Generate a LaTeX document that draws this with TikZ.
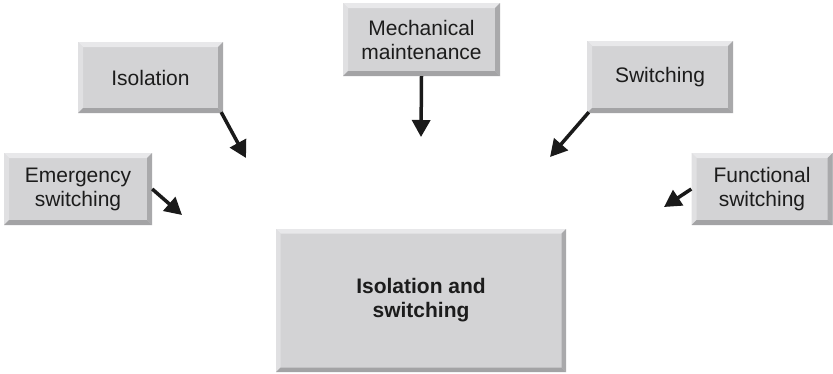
\documentclass[tikz,border=0pt]{standalone}
\usepackage{fontspec}
\setmainfont{Liberation Sans}
\usetikzlibrary{arrows.meta}
\definecolor{face}{HTML}{D3D3D5}
\definecolor{toplt}{HTML}{E8E8EA}
\definecolor{leftlt}{HTML}{E0E0E2}
\definecolor{rightdk}{HTML}{A9A9AB}
\definecolor{botdk}{HTML}{A3A3A5}
\definecolor{ink}{HTML}{1C1C1C}
\definecolor{arr}{HTML}{1A1A1A}
\def\bw{5pt}
\tikzset{
  bw/.code={\def\bw{#1}},
  bbox/.style={rectangle, inner sep=0pt, fill=face, text=ink, align=center,
    font=\fontsize{21}{24}\selectfont,
    path picture={
      \coordinate (NW) at (path picture bounding box.north west);
      \coordinate (NE) at (path picture bounding box.north east);
      \coordinate (SW) at (path picture bounding box.south west);
      \coordinate (SE) at (path picture bounding box.south east);
      \fill[toplt] (NW) -- (NE) -- ([xshift=-\bw,yshift=-\bw]NE) -- ([xshift=\bw,yshift=-\bw]NW) -- cycle;
      \fill[leftlt] (NW) -- ([xshift=\bw,yshift=-\bw]NW) -- ([xshift=\bw,yshift=\bw]SW) -- (SW) -- cycle;
      \fill[rightdk] (NE) -- (SE) -- ([xshift=-\bw,yshift=\bw]SE) -- ([xshift=-\bw,yshift=-\bw]NE) -- cycle;
      \fill[botdk] (SW) -- (SE) -- ([xshift=-\bw,yshift=\bw]SE) -- ([xshift=\bw,yshift=\bw]SW) -- cycle;
    }},
  conn/.style={draw=arr, line width=3.5pt, -{Triangle[length=17pt,width=18pt]}}
}
\begin{document}
\begin{tikzpicture}[x=1pt,y=-1pt]
\useasboundingbox (0,0) rectangle (833,373);
\node[bbox, minimum width=145pt, minimum height=71pt] (iso) at (150.5,77.5) {Isolation};
\node[bbox, minimum width=148pt, minimum height=72pt] (emg) at (78,189) {Emergency\\switching};
\node[bbox, minimum width=157pt, minimum height=73pt] (mech) at (421.5,39.5) {Mechanical\\maintenance};
\node[bbox, minimum width=146pt, minimum height=72pt] (sw) at (660,77) {Switching};
\node[bbox, minimum width=141pt, minimum height=72pt] (fun) at (762,189) {Functional\\switching};
\node[bbox, bw=4.5pt, minimum width=290pt, minimum height=143pt, font=\fontsize{21}{24}\selectfont\bfseries] (big) at (421,300.5) {Isolation and\\switching};
\coordinate (tiso) at (246,158);
\coordinate (temg) at (182,215);
\coordinate (tmech) at (421,137);
\coordinate (tsw) at (550,157);
\coordinate (tfun) at (664,207);
\draw[conn] ([xshift=-2pt,yshift=1pt]iso.south east) -- (tiso);
\draw[conn] (emg.east) -- (temg);
\draw[conn] (mech.south) -- (tmech);
\draw[conn] ([xshift=2pt,yshift=1pt]sw.south west) -- (tsw);
\draw[conn] (fun.west) -- (tfun);
\end{tikzpicture}
\end{document}
